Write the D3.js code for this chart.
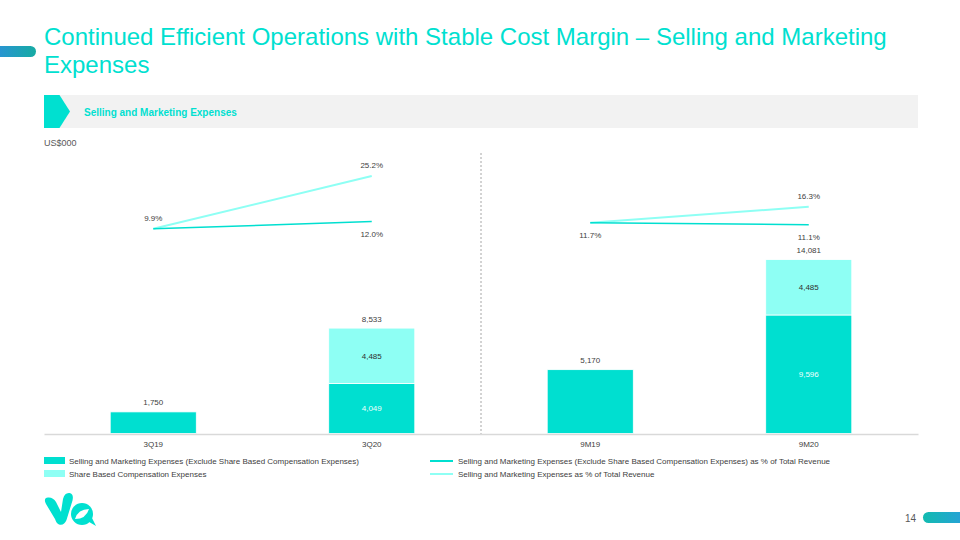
<!DOCTYPE html>
<html><head><meta charset="utf-8">
<script src="https://cdn.jsdelivr.net/npm/d3@7"></script>
<style>html,body{margin:0;padding:0;background:#fff;}svg{display:block;font-family:"Liberation Sans",Arial,sans-serif;}</style>
</head><body>
<script>
const categories = ["3Q19", "3Q20", "9M19", "9M20"];
const smExSbc = [1750, 4049, 5170, 9596];
const sbc = [0, 4485, 0, 4485];
const totals = [1750, 8533, 5170, 14081];
const pctExSbc = [9.9, 12.0, 11.7, 11.1];
const pctTotal = [9.9, 25.2, 11.7, 16.3];
const lineGroups = [[0, 1], [2, 3]];
const showTotalLabel = [true, true, false, true];
const showExLabel = [false, true, true, true];
const legendBars = ["Selling and Marketing Expenses (Exclude Share Based Compensation Expenses)", "Share Based Compensation Expenses"];
const legendLines = ["Selling and Marketing Expenses (Exclude Share Based Compensation Expenses) as % of Total Revenue", "Selling and Marketing Expenses as % of Total Revenue"];
const fmt = d3.format(",");

const DARK = "#00DFD0", LIGHT = "#8EFFF4", TEAL = "#00E0D0", TXT = "#404040";
const svg = d3.select("body").append("svg").attr("width", 960).attr("height", 540);

// decorations
const defs = svg.append("defs");
const g1 = defs.append("linearGradient").attr("id", "gl");
g1.append("stop").attr("offset", "0").attr("stop-color", "#2D8FDD");
g1.append("stop").attr("offset", "1").attr("stop-color", "#16ABA3");
const g2 = defs.append("linearGradient").attr("id", "gr");
g2.append("stop").attr("offset", "0").attr("stop-color", "#12BBB0");
g2.append("stop").attr("offset", "1").attr("stop-color", "#2C9BE0");
svg.append("rect").attr("x", -10).attr("y", 46).attr("width", 46).attr("height", 11).attr("rx", 5.5).attr("fill", "url(#gl)");
svg.append("rect").attr("x", 923).attr("y", 512).attr("width", 50).attr("height", 11).attr("rx", 5.5).attr("fill", "url(#gr)");
svg.append("text").attr("x", 916).attr("y", 521.5).attr("text-anchor", "end").attr("font-size", 10).attr("fill", "#595959").text("14");

// title
svg.append("text").attr("x", 44).attr("y", 45).attr("font-size", 24).attr("fill", TEAL).text("Continued Efficient Operations with Stable Cost Margin \u2013 Selling and Marketing");
svg.append("text").attr("x", 44).attr("y", 73).attr("font-size", 24).attr("fill", TEAL).text("Expenses");

// section header
svg.append("rect").attr("x", 44).attr("y", 95).attr("width", 874).attr("height", 33).attr("fill", "#F2F2F2");
svg.append("path").attr("d", "M44,95 L59.5,95 L70,111.5 L59.5,128 L44,128 Z").attr("fill", TEAL);
svg.append("text").attr("x", 84).attr("y", 115.5).attr("font-size", 10).attr("font-weight", "bold").attr("fill", TEAL).text("Selling and Marketing Expenses");
svg.append("text").attr("x", 44).attr("y", 146).attr("font-size", 9).attr("fill", "#595959").text("US$000");

// scales
const x = d3.scaleBand().domain(categories).range([44, 918]);
const barW = x.bandwidth() * 0.394;
const y = d3.scaleLinear().domain([0, 20000]).range([433.5, 186.5]);
const yp = d3.scaleLinear().domain([0, 30]).range([263, 159.5]);
const cx = c => x(c) + x.bandwidth() / 2;

// divider
svg.append("line").attr("x1", 481).attr("x2", 481).attr("y1", 153).attr("y2", 435)
  .attr("stroke", "#A6A6A6").attr("stroke-width", 1).attr("stroke-dasharray", "2,2");

// bars
const bars = svg.append("g");
categories.forEach((c, i) => {
  const x0 = cx(c) - barW / 2;
  bars.append("rect").attr("x", x0).attr("y", y(smExSbc[i])).attr("width", barW).attr("height", y(0) - y(smExSbc[i]))
    .attr("fill", DARK).attr("stroke", "#fff").attr("stroke-width", 0.8);
  if (sbc[i] > 0) {
    bars.append("rect").attr("x", x0).attr("y", y(smExSbc[i] + sbc[i])).attr("width", barW).attr("height", y(smExSbc[i]) - y(smExSbc[i] + sbc[i]))
      .attr("fill", LIGHT).attr("stroke", "#fff").attr("stroke-width", 0.8);
    bars.append("text").attr("x", cx(c)).attr("y", (y(smExSbc[i]) + y(0)) / 2 + 3).attr("text-anchor", "middle")
      .attr("font-size", 8).attr("fill", "#EFFFFD").text(fmt(smExSbc[i]));
    bars.append("text").attr("x", cx(c)).attr("y", (y(smExSbc[i]) + y(smExSbc[i] + sbc[i])) / 2 + 3).attr("text-anchor", "middle")
      .attr("font-size", 8).attr("fill", "#303030").text(fmt(sbc[i]));
  }
  bars.append("text").attr("x", cx(c)).attr("y", y(smExSbc[i] + sbc[i]) - 6.5).attr("text-anchor", "middle")
    .attr("font-size", 8).attr("fill", TXT).text(fmt(totals[i]));
});

// axis
const ax = svg.append("g").attr("transform", "translate(0,434)")
  .call(d3.axisBottom(x).tickSize(0).tickPadding(7));
ax.select(".domain").attr("stroke", "#D9D9D9").attr("stroke-width", 1.5);
ax.selectAll("text").attr("font-size", 8).attr("fill", TXT).attr("font-family", "Liberation Sans, Arial, sans-serif");

// lines
const line = d3.line().x(d => cx(categories[d.i])).y(d => yp(d.v));
lineGroups.forEach(gp => {
  svg.append("path").datum(gp.map(i => ({ i, v: pctTotal[i] }))).attr("d", line)
    .attr("fill", "none").attr("stroke", LIGHT).attr("stroke-width", 2);
  svg.append("path").datum(gp.map(i => ({ i, v: pctExSbc[i] }))).attr("d", line)
    .attr("fill", "none").attr("stroke", DARK).attr("stroke-width", 1.5);
});
categories.forEach((c, i) => {
  if (showTotalLabel[i]) svg.append("text").attr("x", cx(c)).attr("y", yp(pctTotal[i]) - 8).attr("text-anchor", "middle")
    .attr("font-size", 8).attr("fill", TXT).text(pctTotal[i].toFixed(1) + "%");
  if (showExLabel[i]) svg.append("text").attr("x", cx(c)).attr("y", yp(pctExSbc[i]) + 15).attr("text-anchor", "middle")
    .attr("font-size", 8).attr("fill", TXT).text(pctExSbc[i].toFixed(1) + "%");
});

// legend
legendBars.forEach((t, k) => {
  const yy = 461 + k * 13;
  svg.append("rect").attr("x", 44).attr("y", yy - 4).attr("width", 21).attr("height", 7).attr("fill", k === 0 ? DARK : LIGHT);
  svg.append("text").attr("x", 69).attr("y", yy + 3).attr("font-size", 8).attr("fill", TXT).text(t);
});
legendLines.forEach((t, k) => {
  const yy = 461 + k * 13;
  svg.append("line").attr("x1", 430).attr("x2", 453).attr("y1", yy).attr("y2", yy).attr("stroke", k === 0 ? DARK : LIGHT).attr("stroke-width", 2);
  svg.append("text").attr("x", 458).attr("y", yy + 3).attr("font-size", 8).attr("fill", TXT).text(t);
});

// logo
const logo = svg.append("g").attr("fill", TEAL);
logo.append("path").attr("d", "M46,504 Q43,498 48,497.5 Q53,497 56,502 L61,512 L63,499 Q64.5,492.5 69.5,493 Q74,494 72.5,500.5 L66.5,520 Q64,526 59,524.5 Q56.5,523.5 55,519 Z");
logo.append("circle").attr("cx", 82).attr("cy", 514).attr("r", 11);
logo.append("path").attr("d", "M84,519 L96,526 L90,514 Z");
logo.append("path").attr("d", "M75,519 Q78,509 89,509 Q86,519 75,519 Z").attr("fill", "#fff");
</script>
</body></html>
